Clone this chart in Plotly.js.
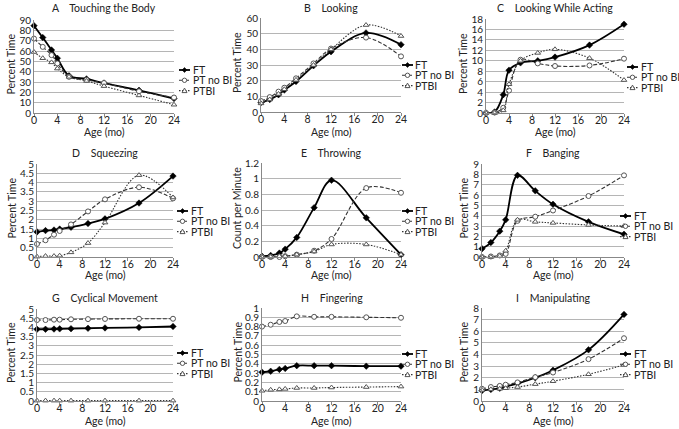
<!DOCTYPE html>
<html><head><meta charset="utf-8">
<script src="https://cdn.plot.ly/plotly-3.0.1.min.js"></script>
<style>html,body{margin:0;padding:0;background:#fff;} #chart{width:679px;height:429px;}</style>
</head><body><div id="chart"></div>
<script>
// ---------- data ----------
const ages = [0, 1.5, 3, 4, 6, 9, 12, 18, 24];
const xTickVals = [0, 4, 8, 12, 16, 20, 24];
const seriesNames = ['FT', 'PT no BI', 'PTBI'];
const panelLetters = ['A', 'B', 'C', 'D', 'E', 'F', 'G', 'H', 'I'];
const panelNames = ['Touching the Body', 'Looking', 'Looking While Acting', 'Squeezing', 'Throwing', 'Banging', 'Cyclical Movement', 'Fingering', 'Manipulating'];
const yTitles = ['Percent Time', 'Percent Time', 'Percent Time', 'Percent Time', 'Count per Minute', 'Percent Time', 'Percent Time', 'Percent Time', 'Percent Time'];
const xTitle = 'Age (mo)';
const yMax = [90, 60, 18, 5, 1.2, 9, 5, 1, 8];
const yStep = [10, 10, 2, 0.5, 0.2, 1, 0.5, 0.1, 1];

const touchFT      = [84.5, 73, 61, 53, 36, 33, 29, 22, 14];
const touchPTnoBI  = [72, 64, 56, 48, 35, 32, 29, 21, 15];
const touchPTBI    = [59, 53, 49, 43, 35, 31, 26, 17, 8];

const lookFT       = [6, 8, 11, 14, 19.5, 29.5, 38.5, 50.5, 43];
const lookPTnoBI   = [7, 9.5, 13, 15.5, 21.5, 31, 40.5, 47.5, 35.5];
const lookPTBI     = [5.5, 8, 11.5, 14.5, 20.5, 30, 40, 55.5, 48.5];

const lwaFT        = [0, 0.2, 3.5, 8.2, 9.6, 10, 10.7, 13, 17];
const lwaPTnoBI    = [0, 0.1, 1, 4.3, 10.2, 9.5, 9, 9.1, 10.4];
const lwaPTBI      = [0, 0, 0.5, 5.5, 10, 11.5, 12.2, 10.5, 6.3];

const squeezeFT     = [1.35, 1.42, 1.45, 1.5, 1.6, 1.8, 2.05, 2.9, 4.35];
const squeezePTnoBI = [0.7, 0.9, 1.2, 1.4, 1.75, 2.45, 3.1, 3.75, 3.15];
const squeezePTBI   = [0.02, 0.05, 0.05, 0.07, 0.25, 0.75, 1.85, 4.4, 3.2];

const throwFT      = [0.01, 0.02, 0.05, 0.1, 0.25, 0.63, 0.98, 0.5, 0.03];
const throwPTnoBI  = [0, 0, 0, 0.01, 0.03, 0.08, 0.23, 0.88, 0.82];
const throwPTBI    = [0, 0, 0.01, 0.01, 0.03, 0.07, 0.16, 0.16, 0.03];

const bangFT       = [0.8, 1.4, 2.5, 3.6, 7.9, 6.4, 5.1, 3.4, 2.2];
const bangPTnoBI   = [0, 0.05, 0.15, 0.3, 3.5, 3.9, 4.5, 5.9, 7.9];
const bangPTBI     = [0, 0, 0.1, 0.6, 3.6, 3.4, 3.3, 3.1, 3.0];

const cycleFT      = [3.9, 3.9, 3.91, 3.92, 3.93, 3.95, 3.97, 4.0, 4.05];
const cyclePTnoBI  = [4.4, 4.4, 4.42, 4.42, 4.44, 4.45, 4.46, 4.47, 4.47];
const cyclePTBI    = [0.02, 0.02, 0.02, 0.02, 0.02, 0.02, 0.02, 0.02, 0.02];

const fingerFT     = [0.31, 0.32, 0.34, 0.35, 0.38, 0.38, 0.38, 0.375, 0.375];
const fingerPTnoBI = [0.80, 0.82, 0.85, 0.86, 0.91, 0.905, 0.905, 0.9, 0.895];
const fingerPTBI   = [0.11, 0.12, 0.125, 0.13, 0.14, 0.14, 0.145, 0.15, 0.155];

const manipFT      = [0.9, 1.0, 1.1, 1.25, 1.5, 2.0, 2.65, 4.4, 7.45];
const manipPTnoBI  = [1.05, 1.2, 1.3, 1.4, 1.6, 2.05, 2.45, 3.6, 5.4];
const manipPTBI    = [0.95, 1.0, 1.05, 1.1, 1.2, 1.45, 1.7, 2.3, 3.1];

const panelSeries = [
  [touchFT, touchPTnoBI, touchPTBI],
  [lookFT, lookPTnoBI, lookPTBI],
  [lwaFT, lwaPTnoBI, lwaPTBI],
  [squeezeFT, squeezePTnoBI, squeezePTBI],
  [throwFT, throwPTnoBI, throwPTBI],
  [bangFT, bangPTnoBI, bangPTBI],
  [cycleFT, cyclePTnoBI, cyclePTBI],
  [fingerFT, fingerPTnoBI, fingerPTBI],
  [manipFT, manipPTnoBI, manipPTBI]
];

// ---------- layout geometry (pixels) ----------
const W = 679, H = 429;
const boxes = [ // [left, right, top, bottom]
  [34, 174, 20, 113], [261, 401, 18, 112], [486, 624, 19, 113],
  [37, 173, 164, 257], [262, 401, 163, 257], [482, 624, 164, 257],
  [37, 173, 309, 401], [262, 401, 308, 401], [482, 624, 308, 401]
];
const titleY = [8, 8, 8, 153, 153, 153, 298, 298, 298];
const xTitleY = [132, 132, 132, 275, 275, 275, 421, 421, 421];
const yTitleX = [11, 237, 463, 11, 237, 463, 11, 237, 463];
const legX = [179, 402, 627, 177, 402, 620, 177, 402, 620];
const legY = [70, 65, 67, 211, 211, 216, 353, 354, 354];
const legGap = 10.3;

const FONT = 'Lato, "Noto Sans", sans-serif';
const TXT = '#222';
const FS = 10;
const styles = [
  {line: {color: '#000', width: 1.8}, marker: {symbol: 'diamond', size: 5, color: '#000', line: {color: '#000', width: 0.5}}},
  {line: {color: '#333', width: 1.1, dash: '4px,2px'}, marker: {symbol: 'circle', size: 5, color: '#fff', line: {color: '#555', width: 1}}},
  {line: {color: '#333', width: 1.1, dash: '1.5px,1.5px'}, marker: {symbol: 'triangle-up', size: 5, color: '#fff', line: {color: '#555', width: 1}}}
];

const px2x = p => p / W;
const py2y = p => 1 - p / H;

const traces = [];
const layout = {
  width: W, height: H,
  margin: {l: 0, r: 0, t: 0, b: 0},
  paper_bgcolor: '#fff', plot_bgcolor: '#fff',
  showlegend: false,
  font: {family: FONT, size: FS, color: TXT},
  annotations: [], shapes: []
};

panelSeries.forEach((series, p) => {
  const sfx = p === 0 ? '' : String(p + 1);
  const [l, r, t, b] = boxes[p];
  layout['xaxis' + sfx] = {
    domain: [px2x(l), px2x(r)], anchor: 'y' + sfx,
    range: [0, 24], tickvals: xTickVals, ticks: 'outside', ticklen: 3, tickcolor: '#888',
    ticklabelstandoff: -6,
    showline: true, linecolor: '#888', linewidth: 1, showgrid: false, zeroline: false,
    tickfont: {family: FONT, size: FS + 0.5, color: TXT}
  };
  layout['yaxis' + sfx] = {
    domain: [py2y(b), py2y(t)], anchor: 'x' + sfx,
    range: [0, yMax[p]], dtick: yStep[p], tick0: 0, ticks: '',
    showline: true, linecolor: '#888', linewidth: 1,
    showgrid: true, gridcolor: '#b5b5b5', gridwidth: 1, zeroline: false,
    tickfont: {family: FONT, size: FS, color: TXT}
  };
  series.forEach((vals, s) => {
    traces.push({
      type: 'scatter', mode: 'lines+markers', name: seriesNames[s],
      x: ages, y: vals, xaxis: 'x' + sfx, yaxis: 'y' + sfx,
      line: Object.assign({shape: 'spline', smoothing: 1}, styles[s].line),
      marker: styles[s].marker, cliponaxis: false
    });
  });
  // panel title
  layout.annotations.push({
    xref: 'paper', yref: 'paper', x: px2x((l + r) / 2), y: py2y(titleY[p]),
    text: panelLetters[p] + '\u00a0\u00a0\u00a0\u00a0' + panelNames[p], showarrow: false,
    xanchor: 'center', yanchor: 'middle', font: {family: FONT, size: FS + 0.5, color: TXT}
  });
  // x title
  layout.annotations.push({
    xref: 'paper', yref: 'paper', x: px2x((l + r) / 2), y: py2y(xTitleY[p]),
    text: xTitle, showarrow: false, xanchor: 'center', yanchor: 'middle',
    font: {family: FONT, size: FS + 0.5, color: TXT}
  });
  // y title
  layout.annotations.push({
    xref: 'paper', yref: 'paper', x: px2x(yTitleX[p]), y: py2y((t + b) / 2 - 2),
    text: yTitles[p], showarrow: false, textangle: -90, xanchor: 'center', yanchor: 'middle',
    font: {family: FONT, size: FS + 0.5, color: TXT}
  });
  // legend
  seriesNames.forEach((nm, s) => {
    const ly = legY[p] + s * legGap;
    const lx = legX[p];
    const st = styles[s];
    layout.shapes.push({
      type: 'line', xref: 'paper', yref: 'paper',
      x0: px2x(lx), x1: px2x(lx + 11), y0: py2y(ly), y1: py2y(ly),
      line: {color: st.line.color, width: st.line.width, dash: st.line.dash || 'solid'}
    });
    const anchorX = px2x(lx + 5.5), anchorY = py2y(ly);
    const mk = {xref: 'paper', yref: 'paper', xsizemode: 'pixel', ysizemode: 'pixel',
      xanchor: anchorX, yanchor: anchorY,
      fillcolor: st.marker.color, line: {color: st.marker.line.color, width: st.marker.line.width}};
    if (s === 0) Object.assign(mk, {type: 'path', path: 'M -2.5 0 L 0 2.5 L 2.5 0 L 0 -2.5 Z'});
    else if (s === 1) Object.assign(mk, {type: 'circle', x0: -2.2, x1: 2.2, y0: -2.2, y1: 2.2});
    else Object.assign(mk, {type: 'path', path: 'M -2.5 -2 L 2.5 -2 L 0 2.5 Z'});
    layout.shapes.push(mk);
    layout.annotations.push({
      xref: 'paper', yref: 'paper', x: px2x(lx + 11.5), y: py2y(ly),
      text: nm, showarrow: false, xanchor: 'left', yanchor: 'middle',
      font: {family: FONT, size: FS + 0.5, color: TXT}
    });
  });
});

Plotly.newPlot('chart', traces, layout, {displayModeBar: false, staticPlot: true});
</script>
</body></html>
